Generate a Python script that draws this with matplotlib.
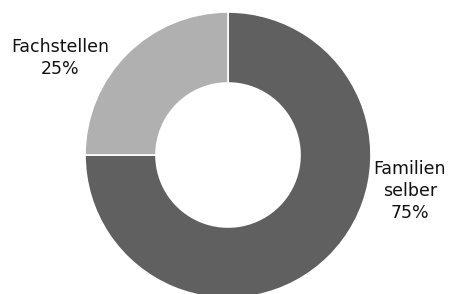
import matplotlib
matplotlib.use("Agg")
import matplotlib.pyplot as plt

labels = ["Familien\nselber", "Fachstellen"]
shares = [75, 25]
colors = ["#606060", "#b0b0b0"]

fig = plt.figure(figsize=(4.52, 2.94), dpi=100)
ax = fig.add_axes([0, 0, 1, 1])

wedges, _ = ax.pie(shares, colors=colors, startangle=90, counterclock=False,
                   center=(228, 139), radius=143,
                   wedgeprops=dict(width=71, edgecolor="white", linewidth=1.2))
ax.set_xlim(0, 452)
ax.set_ylim(0, 294)
ax.set_aspect("equal")
ax.axis("off")

label_pos = [(410, 103), (60, 236)]
for lab, val, (x, y) in zip(labels, shares, label_pos):
    ax.text(x, y, f"{lab}\n{val}%", ha="center", va="center",
            fontsize=12.5, color="#111111", linespacing=1.3)

fig.savefig("out.png", dpi=100)
